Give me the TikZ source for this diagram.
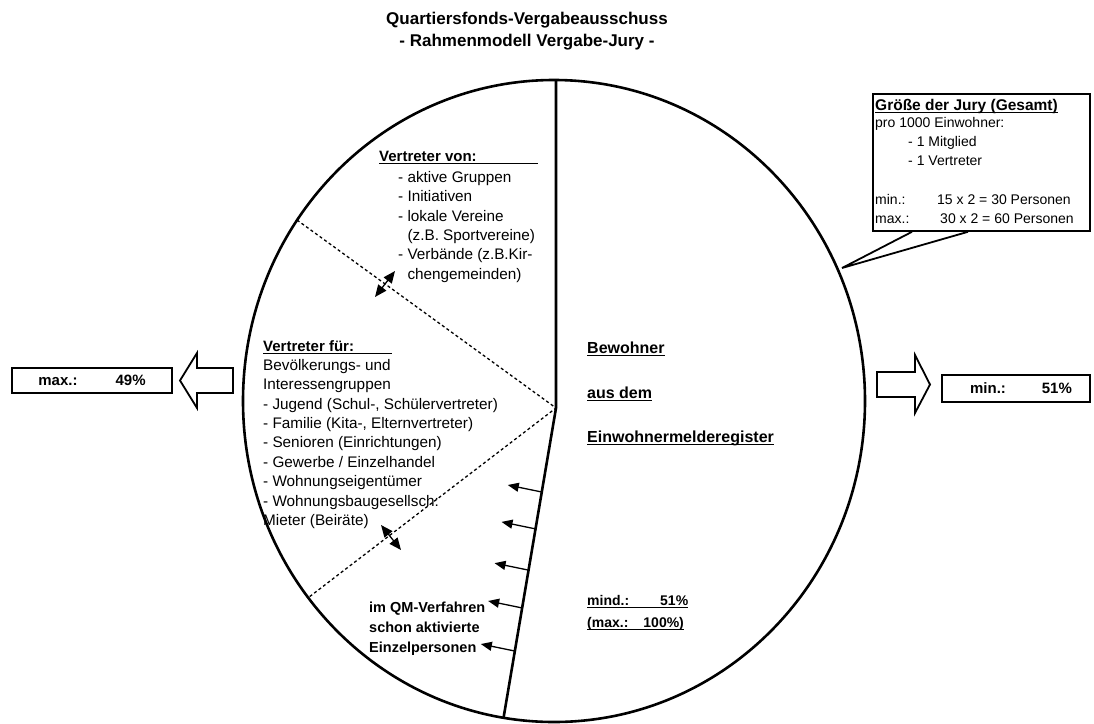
\documentclass[tikz,border=0pt]{standalone}
\usepackage{fontspec}
\setmainfont{Liberation Sans}
\usetikzlibrary{arrows.meta,calc}
\begin{document}
\begin{tikzpicture}[x=1pt,y=-1pt,
  txt/.style={inner sep=0pt, font=\fontsize{15.3}{19.4}\selectfont, align=left},
  btxt/.style={inner sep=0pt, font=\bfseries\fontsize{15}{20}\selectfont, align=left},
  boxtxt/.style={inner sep=0pt, font=\fontsize{14}{19.2}\selectfont, align=left},
  uline/.style={line width=1.5pt},
  thick line/.style={line width=2.6pt},
  divider/.style={line width=1.3pt, dash pattern=on 3pt off 2.6pt},
  framebox/.style={draw, line width=1.8pt, fill=white, inner sep=0pt},
  blockarrow/.style={draw, line width=1.8pt, fill=white, line join=miter},
  smallarrow/.style={line width=1.3pt, -{Triangle[length=11pt,width=9pt]}},
  dblarrow/.style={line width=1.3pt, {Triangle[length=12pt,width=10pt]}-{Triangle[length=12pt,width=10pt]}}]
\useasboundingbox (0,0) rectangle (1094,723);
\fill[white] (0,0) rectangle (1094,723);

% main circle and divisions
\coordinate (C) at (554,401);
\coordinate (T) at (556,80);
\coordinate (J) at (556,408);
\coordinate (B) at (503.5,718);
\coordinate (U) at (297,220);
\coordinate (L) at (308.5,597.5);
\draw[thick line] (C) ellipse [x radius=311, y radius=321];
\draw[thick line, line join=miter] (T) -- (J) -- (B);
\draw[divider] (U) -- (J) -- (L);

% double arrows across the dashed lines
\coordinate (da1) at (395,271);
\coordinate (da2) at (375,297);
\draw[dblarrow] (da1) -- (da2);
\coordinate (db1) at (381,525);
\coordinate (db2) at (401,550);
\draw[dblarrow] (db1) -- (db2);

% small arrows pointing left from the solid line
\foreach \t/\n in {0.271/1,0.390/2,0.523/3,0.645/4,0.784/5}{
  \coordinate (s\n) at ($(J)!\t!(B)$);
  \coordinate (h\n) at ($(s\n)+(-34,-7)$);
  \draw[smallarrow] (s\n) -- (h\n);
}

% title
\node[inner sep=0pt, font=\bfseries\fontsize{17}{22}\selectfont, align=center] (title) at (527,31)
  {Quartiersfonds-Vergabeausschuss\\- Rahmenmodell Vergabe-Jury -};

% Vertreter von
\node[btxt, anchor=base west] (vvon) at (379,161) {Vertreter von:};
\draw[uline] ([yshift=-2.5pt]vvon.base west) -- ++(159,0);
\node[txt, anchor=north west] (vvonlist) at (398,171)
  {- aktive Gruppen\\- Initiativen\\- lokale Vereine\\\phantom{- }(z.B. Sportvereine)\\- Verbände (z.B.Kir-\\\phantom{- }chengemeinden)};

% Vertreter fuer
\node[btxt, anchor=base west] (vfuer) at (263,351) {Vertreter für:};
\draw[uline] ([yshift=-2.5pt]vfuer.base west) -- ++(129,0);
\node[txt, anchor=north west] (vfuerlist) at (263,359)
  {Bevölkerungs- und\\Interessengruppen\\- Jugend (Schul-, Schülervertreter)\\- Familie (Kita-, Elternvertreter)\\- Senioren (Einrichtungen)\\- Gewerbe / Einzelhandel\\- Wohnungseigentümer\\- Wohnungsbaugesellsch:\\Mieter (Beiräte)};

% QM
\node[btxt, font=\bfseries\fontsize{14.5}{20}\selectfont, anchor=north west] (qm) at (369,602)
  {im QM-Verfahren\\schon aktivierte\\Einzelpersonen};

% Bewohner
\node[btxt, font=\bfseries\fontsize{16}{20}\selectfont, anchor=base west] (bw1) at (587,353) {Bewohner};
\node[btxt, font=\bfseries\fontsize{16}{20}\selectfont, anchor=base west] (bw2) at (587,398) {aus dem};
\node[btxt, font=\bfseries\fontsize{16}{20}\selectfont, anchor=base west] (bw3) at (587,442) {Einwohnermelderegister};
\foreach \n in {bw1,bw2,bw3}{
  \draw[uline] ([yshift=-2.5pt]\n.base west) -- ([yshift=-2.5pt]\n.base east);
}
\node[btxt, font=\bfseries\fontsize{14}{18}\selectfont, anchor=base west] (md1) at (587,605) {mind.:\hspace{31pt}51\%};
\node[btxt, font=\bfseries\fontsize{14}{18}\selectfont, anchor=base west] (md2) at (587,627) {(max.:\hspace{15pt}100\%)};
\foreach \n in {md1,md2}{
  \draw[uline] ([yshift=-2.5pt]\n.base west) -- ([yshift=-2.5pt]\n.base east);
}

% Jury callout
\coordinate (tip) at (842,268);
\node[framebox, minimum width=217pt, minimum height=137pt, anchor=north west] (jurybox) at (872,93) {};
\draw[line width=1.8pt, line join=miter] ([xshift=40pt]jurybox.south west) -- (tip) -- ([xshift=96pt]jurybox.south west);
\node[btxt, font=\bfseries\fontsize{15.5}{19}\selectfont, anchor=base west] (jhead) at (875,110) {Größe der Jury (Gesamt)};
\draw[uline] ([yshift=-2.5pt]jhead.base west) -- ([yshift=-2.5pt]jhead.base east);
\node[boxtxt, anchor=north west] (jtext) at (875,117)
  {pro 1000 Einwohner:\\\hspace{33pt}- 1 Mitglied\\\hspace{33pt}- 1 Vertreter\\\mbox{}\\\makebox[62pt][l]{min.:}15 x 2 = 30 Personen\\\makebox[65pt][l]{max.:}30 x 2 = 60 Personen};

% left: max box and hollow arrow
\node[framebox, btxt, minimum width=160pt, minimum height=25pt] (maxbox) at (92,380.5) {max.:\hspace{38pt}49\%};
\draw[blockarrow] (233,368) -- (197,368) -- (197,353) -- (180,380.5) -- (197,408) -- (197,393) -- (233,393) -- cycle;

% right: min box and hollow arrow
\node[framebox, btxt, minimum width=148pt, minimum height=27pt] (minbox) at (1016,388.5) {\hspace{10pt}min.:\hspace{36pt}51\%};
\draw[blockarrow] (877,372) -- (915,372) -- (915,355) -- (930,384.5) -- (915,413) -- (915,397) -- (877,397) -- cycle;
\end{tikzpicture}
\end{document}
